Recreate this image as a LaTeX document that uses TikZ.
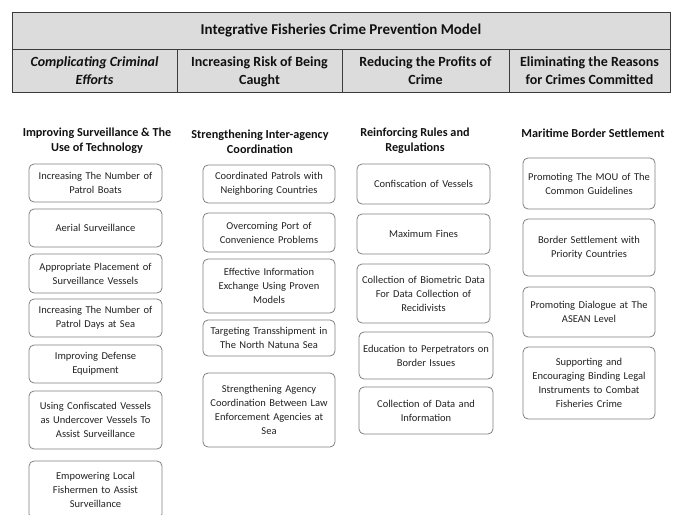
\documentclass[tikz,border=0pt]{standalone}
\usepackage{fontspec}
\setmainfont{Carlito}
\definecolor{hdrfill}{HTML}{DCDCDC}
\definecolor{hdrline}{HTML}{3C3C3C}
\definecolor{boxline}{HTML}{808080}
\definecolor{boxtext}{HTML}{222222}
\definecolor{headtext}{HTML}{111111}
\begin{document}
\begin{tikzpicture}[x=1pt,y=-1pt,
  hdr/.style={draw=hdrline, fill=hdrfill, line width=0.9pt, inner sep=0pt},
  title/.style={hdr, font=\fontsize{15}{18}\selectfont\bfseries, text=headtext},
  cell/.style={hdr, font=\fontsize{14}{18}\selectfont\bfseries, text=headtext, align=center,
    minimum height=43pt, text depth=0pt},
  colhead/.style={font=\fontsize{12.2}{15}\selectfont\bfseries, text=headtext, align=center, inner sep=0pt},
  item/.style={draw=boxline, fill=white, rounded corners=5pt, line width=0.8pt,
    align=center, font=\fontsize{10.5}{14}\selectfont, text=boxtext, inner sep=0pt},
  colA/.style={item, minimum width=133pt, text width=127pt},
  colB/.style={item, minimum width=132pt, text width=126pt},
  colC/.style={item, minimum width=133pt, text width=127pt},
  colD/.style={item, minimum width=132pt, text width=126pt},
]
\useasboundingbox (0,0) rectangle (677,514);
\clip (0,0) rectangle (677,514);

% title band and the four strategy cells
\node[title, minimum width=658pt, minimum height=37pt] (model) at (341,30.5)
  {Integrative Fisheries Crime Prevention Model};
\node[cell, minimum width=165pt] (s1) at (94.5,70.5) {\itshape Complicating Criminal\\\itshape Efforts};
\node[cell, minimum width=165pt] (s2) at (259.5,70.5) {Increasing Risk of Being\\Caught};
\node[cell, minimum width=167pt] (s3) at (425.5,70.5) {Reducing the Profits of\\Crime};
\node[cell, minimum width=161pt] (s4) at (589.5,70.5) {Eliminating the Reasons\\for Crimes Committed};

% column headings
\node[colhead] (h1) at (97,140.5) {Improving Surveillance \& The\\Use of Technology};
\node[colhead] (h2) at (260,141.5) {Strengthening Inter-agency\\Coordination};
\node[colhead] (h3) at (415,140.5) {Reinforcing Rules and\\Regulations};
\node[colhead] (h4) at (593,133) {Maritime Border Settlement};

% first column
\node[colA, minimum height=38pt] (a1) at (95.5,183) {Increasing The Number of\\Patrol Boats};
\node[colA, minimum height=38pt] (a2) at (95.5,228) {Aerial Surveillance};
\node[colA, minimum height=39pt] (a3) at (95.5,273.5) {Appropriate Placement of\\Surveillance Vessels};
\node[colA, minimum height=38pt] (a4) at (95.5,318) {Increasing The Number of\\Patrol Days at Sea};
\node[colA, minimum height=38pt] (a5) at (95.5,364) {Improving Defense\\Equipment};
\node[colA, minimum height=58pt] (a6) at (95.5,420) {Using Confiscated Vessels\\as Undercover Vessels To\\Assist Surveillance};
\node[colA, minimum height=58pt] (a7) at (95.5,490) {Empowering Local\\Fishermen to Assist\\Surveillance};

% second column
\node[colB, minimum height=38pt] (b1) at (269,184) {Coordinated Patrols with\\Neighboring Countries};
\node[colB, minimum height=39pt] (b2) at (269,232.5) {Overcoming Port of\\Convenience Problems};
\node[colB, minimum height=54pt] (b3) at (269,286) {Effective Information\\Exchange Using Proven\\Models};
\node[colB, minimum height=36pt] (b4) at (269,338) {Targeting Transshipment in\\The North Natuna Sea};
\node[colB, minimum height=74pt] (b5) at (269,410) {Strengthening Agency\\Coordination Between Law\\Enforcement Agencies at\\Sea};

% third column
\node[colC, minimum height=40pt] (c1) at (423.5,184) {Confiscation of Vessels};
\node[colC, minimum height=40pt] (c2) at (423.5,234) {Maximum Fines};
\node[colC, minimum height=59pt] (c3) at (423.5,293.5) {Collection of Biometric Data\\For Data Collection of\\Recidivists};
\node[colC, minimum width=134pt, minimum height=47pt] (c4) at (426,355.5) {Education to Perpetrators on\\Border Issues};
\node[colC, minimum width=134pt, minimum height=47pt] (c5) at (426,410.5) {Collection of Data and\\Information};

% fourth column
\node[colD, minimum height=51pt] (d1) at (589,183.5) {Promoting The MOU of The\\Common Guidelines};
\node[colD, minimum height=57pt] (d2) at (589,247.5) {Border Settlement with\\Priority Countries};
\node[colD, minimum height=50pt] (d3) at (589,312) {Promoting Dialogue at The\\ASEAN Level};
\node[colD, minimum height=72pt] (d4) at (589,383) {Supporting and\\Encouraging Binding Legal\\Instruments to Combat\\Fisheries Crime};
\end{tikzpicture}
\end{document}
